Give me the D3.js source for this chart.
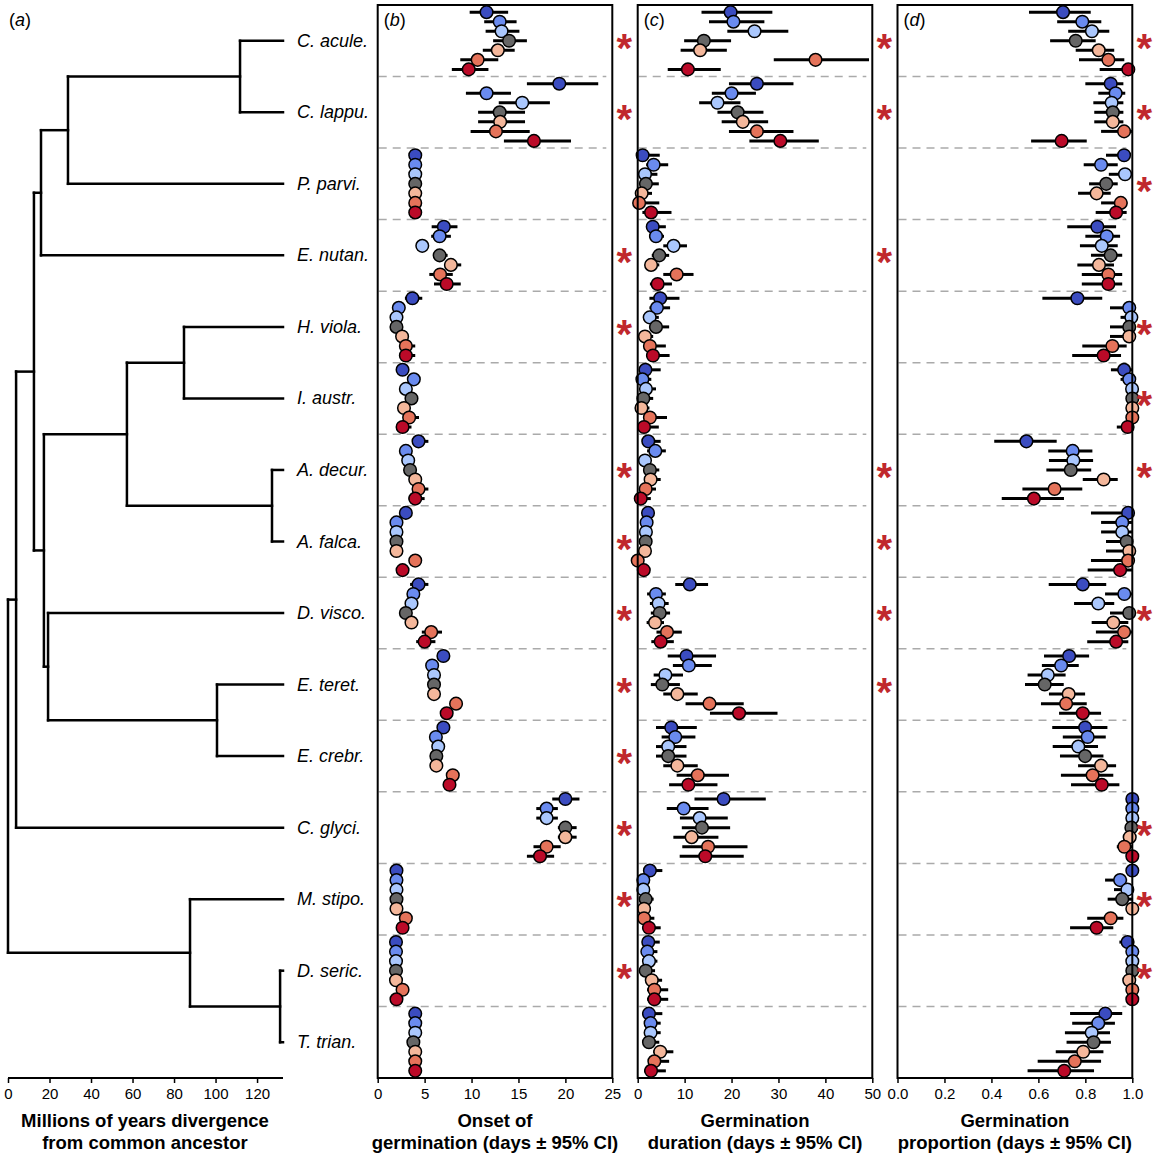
<!DOCTYPE html>
<html>
<head>
<meta charset="utf-8">
<script src="https://cdn.jsdelivr.net/npm/d3@7"></script>
<style>
  body { margin: 0; background: #fff; }
  text { font-family: "Liberation Sans", Arial, Helvetica, sans-serif; }
</style>
</head>
<body>
<svg id="chart" width="1157" height="1157"></svg>
<script>
// ---- data ----
var species = ["C. acule.", "C. lappu.", "P. parvi.", "E. nutan.", "H. viola.", "I. austr.",
  "A. decur.", "A. falca.", "D. visco.", "E. teret.", "E. crebr.", "C. glyci.",
  "M. stipo.", "D. seric.", "T. trian."];

var treatColors = ["#3b4cc0", "#6a8bef", "#aac7fd", "#666666", "#f4b79b", "#e5735a", "#bb0a28"];

// node ages (Myr) for the tree; tips sit at tipAge
var tipAge = 132.5;
var tree = {age: 0, children: [
  {age: 3.9, children: [
    {age: 12.5, children: [
      {age: 15.9, children: [
        {age: 28.9, children: [
          {age: 111.8, children: [{tip: 0}, {tip: 1}]},
          {tip: 2}]},
        {tip: 3}]},
      {age: 17.3, children: [
        {age: 57.3, children: [
          {age: 84.8, children: [{tip: 4}, {tip: 5}]},
          {age: 127.2, children: [{tip: 6}, {tip: 7}]}]},
        {age: 19.3, children: [
          {tip: 8},
          {age: 100.7, children: [{tip: 9}, {tip: 10}]}]}]}]},
    {tip: 11}]},
  {age: 87.7, children: [
    {tip: 12},
    {age: 131.1, children: [{tip: 13}, {tip: 14}]}]}]};

var treeTicks = [0, 20, 40, 60, 80, 100, 120];

// [mean, lower, upper] per treatment, per species
var onset = [
  [[11.6, 9.8, 13.9], [13.0, 11.35, 14.8], [13.2, 11.5, 15.1], [14.0, 12.3, 15.9], [12.8, 11.2, 14.6], [10.65, 8.8, 12.85], [9.7, 7.9, 11.8]],
  [[19.35, 15.9, 23.5], [11.6, 9.4, 14.2], [15.4, 12.9, 18.35], [13.0, 10.7, 15.7], [13.05, 10.7, 15.7], [12.6, 9.9, 16.2], [16.65, 13.45, 20.6]],
  [[4.0, 3.9, 4.1], [4.0, 3.9, 4.1], [4.0, 3.9, 4.1], [4.0, 3.9, 4.1], [4.0, 3.9, 4.1], [4.0, 3.9, 4.1], [4.0, 3.9, 4.1]],
  [[7.05, 5.75, 8.5], [6.6, 5.7, 7.8], [4.75, 4.6, 4.9], [6.6, 5.9, 7.45], [7.8, 7.1, 8.9], [6.65, 5.5, 8.0], [7.35, 6.0, 8.85]],
  [[3.7, 2.9, 4.75], [2.25, 2.1, 2.4], [2.0, 1.9, 2.1], [2.0, 1.9, 2.1], [2.6, 2.4, 2.8], [3.0, 2.6, 4.0], [3.0, 2.6, 4.0]],
  [[2.65, 2.5, 2.8], [3.85, 3.7, 4.0], [3.0, 2.9, 3.1], [3.6, 3.4, 3.8], [2.8, 2.6, 3.0], [3.35, 2.9, 4.4], [2.65, 2.4, 3.6]],
  [[4.35, 3.9, 5.4], [3.0, 2.9, 3.1], [3.25, 3.1, 3.4], [3.45, 3.3, 3.6], [4.0, 3.8, 4.2], [4.35, 3.7, 5.4], [4.0, 3.3, 5.0]],
  [[3.0, 2.9, 3.1], [2.0, 1.9, 2.1], [2.0, 1.9, 2.1], [2.0, 1.9, 2.1], [2.0, 1.9, 2.1], [4.0, 3.9, 4.1], [2.65, 2.5, 2.8]],
  [[4.35, 3.45, 5.4], [3.8, 3.7, 3.9], [3.6, 3.5, 3.7], [3.0, 2.9, 3.1], [3.6, 3.5, 3.7], [5.7, 4.7, 6.85], [5.0, 4.1, 6.15]],
  [[7.0, 6.9, 7.1], [5.8, 5.7, 5.9], [6.0, 5.9, 6.1], [6.0, 5.9, 6.1], [6.0, 5.9, 6.1], [8.35, 8.2, 8.5], [7.35, 7.2, 7.5]],
  [[7.0, 6.9, 7.1], [6.2, 6.1, 6.3], [6.45, 6.3, 6.6], [6.25, 6.1, 6.4], [6.25, 6.1, 6.4], [8.0, 7.9, 8.1], [7.65, 7.5, 7.8]],
  [[20.0, 18.6, 21.5], [18.0, 16.9, 19.2], [18.0, 16.9, 19.2], [20.0, 19.2, 21.2], [20.0, 19.2, 21.2], [18.0, 16.6, 19.5], [17.3, 15.9, 18.8]],
  [[2.0, 1.9, 2.1], [2.0, 1.9, 2.1], [2.0, 1.9, 2.1], [2.0, 1.9, 2.1], [2.0, 1.9, 2.1], [3.0, 2.9, 3.1], [2.65, 2.5, 2.8]],
  [[1.95, 1.85, 2.05], [1.95, 1.85, 2.05], [1.95, 1.85, 2.05], [1.95, 1.85, 2.05], [1.95, 1.85, 2.05], [2.65, 2.5, 2.8], [2.0, 1.9, 2.1]],
  [[4.0, 3.9, 4.1], [4.0, 3.9, 4.1], [4.0, 3.9, 4.1], [3.8, 3.7, 3.9], [4.0, 3.9, 4.1], [4.0, 3.9, 4.1], [4.0, 3.9, 4.1]]
];

var duration = [
  [[19.8, 13.6, 28.7], [20.4, 15.2, 27.0], [24.9, 19.1, 32.1], [14.1, 9.9, 19.9], [13.3, 9.15, 19.0], [37.9, 29.0, 49.3], [10.7, 6.4, 17.7]],
  [[25.4, 19.45, 33.2], [20.0, 15.8, 25.2], [17.0, 13.1, 21.9], [21.3, 17.0, 26.8], [22.4, 17.9, 27.8], [25.4, 19.45, 33.2], [30.4, 23.8, 38.6]],
  [[1.05, 0.3, 4.7], [3.4, 1.8, 6.5], [1.55, 0.5, 4.2], [1.75, 0.6, 4.5], [0.85, 0.2, 3.05], [0.3, 0.0, 4.6], [2.85, 1.0, 7.2]],
  [[3.2, 1.9, 6.0], [3.9, 2.4, 5.6], [7.65, 5.45, 10.5], [4.6, 3.0, 6.7], [2.85, 1.6, 4.6], [8.3, 5.45, 11.9], [4.25, 2.6, 7.3]],
  [[4.8, 2.5, 8.9], [4.1, 2.5, 6.9], [2.55, 1.2, 4.5], [3.9, 2.4, 6.7], [1.55, 0.6, 3.3], [2.6, 1.3, 6.0], [3.25, 1.8, 6.8]],
  [[1.65, 0.6, 4.9], [1.0, 0.3, 2.9], [1.75, 0.8, 3.9], [1.2, 0.4, 3.3], [0.8, 0.2, 2.5], [2.6, 1.2, 6.25], [1.35, 0.5, 4.5]],
  [[2.25, 1.0, 4.9], [3.75, 2.0, 6.0], [1.55, 0.7, 2.8], [2.6, 1.2, 4.6], [2.75, 1.4, 4.9], [1.7, 0.7, 3.9], [0.65, 0.1, 2.8]],
  [[2.2, 1.5, 3.0], [1.9, 1.2, 2.7], [1.75, 1.1, 2.5], [1.7, 1.0, 2.5], [1.55, 0.9, 2.3], [0.0, 0.0, 0.6], [1.3, 0.7, 2.0]],
  [[11.1, 8.0, 15.0], [3.9, 2.0, 6.0], [4.45, 2.6, 6.6], [4.7, 2.8, 6.9], [3.7, 1.9, 5.6], [6.25, 4.0, 9.4], [4.9, 2.9, 7.7]],
  [[10.4, 6.4, 16.7], [10.9, 7.5, 15.8], [5.9, 3.4, 9.65], [5.25, 2.8, 9.0], [8.45, 5.45, 12.8], [15.3, 10.2, 22.6], [21.6, 15.4, 29.8]],
  [[7.15, 3.9, 12.6], [8.0, 5.1, 12.3], [6.5, 3.9, 10.4], [6.5, 3.9, 10.4], [8.45, 5.45, 12.8], [12.8, 8.3, 19.45], [10.8, 6.7, 17.0]],
  [[18.3, 12.1, 27.3], [9.8, 6.2, 15.1], [13.2, 9.0, 19.2], [13.7, 9.4, 19.7], [11.5, 7.6, 17.2], [15.0, 9.5, 23.4], [14.4, 8.95, 22.6]],
  [[2.6, 1.2, 5.25], [1.2, 0.4, 2.5], [1.2, 0.4, 2.5], [1.7, 0.7, 3.4], [1.35, 0.5, 2.8], [1.35, 0.5, 3.55], [2.4, 1.0, 4.9]],
  [[2.25, 1.0, 4.7], [2.05, 0.9, 4.2], [2.4, 1.2, 4.2], [1.7, 0.7, 3.7], [3.0, 1.6, 5.2], [3.55, 2.0, 6.5], [3.55, 2.0, 6.5]],
  [[2.4, 1.0, 5.25], [2.75, 1.5, 4.9], [2.75, 1.5, 4.9], [2.4, 1.2, 4.6], [4.8, 3.3, 7.6], [3.55, 2.25, 6.7], [2.85, 1.35, 6.0]]
];

var proportion = [
  [[0.705, 0.56, 0.823], [0.787, 0.68, 0.868], [0.828, 0.727, 0.902], [0.759, 0.65, 0.844], [0.857, 0.759, 0.923], [0.898, 0.773, 0.966], [0.983, 0.861, 1.0]],
  [[0.908, 0.80, 0.962], [0.929, 0.855, 0.97], [0.912, 0.834, 0.962], [0.917, 0.838, 0.962], [0.917, 0.838, 0.962], [0.965, 0.867, 1.0], [0.699, 0.569, 0.806]],
  [[0.965, 0.888, 0.99], [0.867, 0.793, 0.938], [0.969, 0.90, 1.0], [0.889, 0.816, 0.938], [0.848, 0.769, 0.908], [0.951, 0.867, 0.979], [0.931, 0.844, 0.976]],
  [[0.851, 0.723, 0.931], [0.891, 0.80, 0.948], [0.87, 0.777, 0.938], [0.908, 0.824, 0.957], [0.858, 0.766, 0.922], [0.898, 0.785, 0.957], [0.898, 0.785, 0.957]],
  [[0.766, 0.617, 0.872], [0.987, 0.905, 1.0], [0.996, 0.95, 1.0], [0.987, 0.905, 1.0], [0.987, 0.905, 1.0], [0.915, 0.787, 0.976], [0.878, 0.744, 0.952]],
  [[0.965, 0.909, 1.0], [0.987, 0.95, 1.0], [0.999, 0.98, 1.0], [1.0, 0.98, 1.0], [1.0, 0.98, 1.0], [1.0, 0.98, 1.0], [0.98, 0.934, 1.0]],
  [[0.549, 0.412, 0.678], [0.746, 0.642, 0.83], [0.749, 0.645, 0.833], [0.738, 0.634, 0.825], [0.878, 0.789, 0.938], [0.669, 0.532, 0.787], [0.581, 0.444, 0.709]],
  [[0.982, 0.824, 1.0], [0.957, 0.867, 1.0], [0.957, 0.867, 1.0], [0.976, 0.888, 1.0], [0.987, 0.888, 1.0], [0.982, 0.824, 1.0], [0.948, 0.81, 1.0]],
  [[0.789, 0.644, 0.889], [0.966, 0.884, 1.0], [0.855, 0.752, 0.923], [0.987, 0.905, 1.0], [0.919, 0.827, 0.983], [0.965, 0.845, 1.0], [0.931, 0.808, 0.983]],
  [[0.731, 0.624, 0.816], [0.697, 0.615, 0.772], [0.64, 0.554, 0.716], [0.627, 0.543, 0.708], [0.729, 0.645, 0.799], [0.718, 0.611, 0.806], [0.789, 0.688, 0.867]],
  [[0.799, 0.659, 0.894], [0.81, 0.704, 0.887], [0.77, 0.661, 0.854], [0.799, 0.692, 0.877], [0.867, 0.769, 0.931], [0.831, 0.696, 0.919], [0.87, 0.739, 0.945]],
  [[1.0, 0.98, 1.0], [1.0, 0.98, 1.0], [1.0, 0.98, 1.0], [0.996, 0.97, 1.0], [0.989, 0.96, 1.0], [0.966, 0.934, 1.0], [1.0, 0.98, 1.0]],
  [[1.0, 0.98, 1.0], [0.948, 0.884, 0.978], [0.979, 0.922, 1.0], [0.957, 0.895, 1.0], [1.0, 0.98, 1.0], [0.908, 0.808, 0.962], [0.848, 0.735, 0.919]],
  [[0.98, 0.945, 1.0], [1.0, 0.98, 1.0], [1.0, 0.98, 1.0], [1.0, 0.98, 1.0], [0.987, 0.96, 1.0], [1.0, 0.98, 1.0], [1.0, 0.98, 1.0]],
  [[0.885, 0.735, 0.957], [0.855, 0.744, 0.926], [0.827, 0.713, 0.905], [0.835, 0.72, 0.909], [0.791, 0.674, 0.877], [0.755, 0.597, 0.867], [0.71, 0.554, 0.837]]
];

// significance flags (asterisks) per panel
var sigOnset      = [1, 1, 0, 1, 1, 0, 1, 1, 1, 1, 1, 1, 1, 1, 0];
var sigDuration   = [1, 1, 0, 1, 0, 0, 1, 1, 1, 1, 0, 0, 0, 0, 0];
var sigProportion = [1, 1, 1, 0, 1, 1, 1, 0, 1, 0, 0, 1, 1, 1, 0];

// ---- layout ----
var svg = d3.select("#chart");
var plotTop = 5, plotBottom = 1078;

var y = d3.scaleBand().domain(d3.range(species.length)).range([plotTop, plotBottom]);
var yIn = d3.scalePoint().domain(d3.range(treatColors.length)).range([0, y.bandwidth()]).padding(0.75);
function yc(i) { return y(i) + y.bandwidth() / 2; }

function styleAxis(g) {
  g.select(".domain").remove();
  g.selectAll(".tick line").attr("stroke", "#000").attr("stroke-width", 1.5);
  g.selectAll(".tick text").attr("font-size", 15).attr("fill", "#000")
    .style("font-family", "'Liberation Sans', Arial, sans-serif");
}

function axisTitle(cx, lines) {
  var t = svg.append("text").attr("text-anchor", "middle")
    .attr("font-size", 18.5).attr("font-weight", "bold");
  lines.forEach(function(l, k) {
    t.append("tspan").attr("x", cx).attr("y", 1127 + k * 22).text(l);
  });
}

function panelLabel(x0, letter) {
  var t = svg.append("text").attr("x", x0).attr("y", 26).attr("font-size", 18);
  t.append("tspan").text("(");
  t.append("tspan").attr("font-style", "italic").text(letter);
  t.append("tspan").text(")");
}

// ---- (a) tree ----
var xt = d3.scaleLinear().domain([0, tipAge]).range([8, 283]);
var root = d3.hierarchy(tree);
root.eachAfter(function(n) {
  if (n.data.tip !== undefined) { n.yy = yc(n.data.tip); n.age = tipAge; }
  else { n.age = n.data.age; n.yy = d3.mean(n.children, function(c) { return c.yy; }); }
});

var tg = svg.append("g").attr("fill", "none").attr("stroke", "#000")
  .attr("stroke-width", 2.5).attr("stroke-linecap", "square");
root.descendants().forEach(function(n) {
  if (!n.children) return;
  var ys = n.children.map(function(c) { return c.yy; });
  tg.append("line").attr("x1", xt(n.age)).attr("x2", xt(n.age))
    .attr("y1", d3.min(ys)).attr("y2", d3.max(ys));
  n.children.forEach(function(c) {
    tg.append("line").attr("x1", xt(n.age)).attr("x2", xt(c.age))
      .attr("y1", c.yy).attr("y2", c.yy);
  });
});

svg.append("g").selectAll("text").data(species).join("text")
  .attr("x", 297).attr("y", function(d, i) { return yc(i) + 6; })
  .attr("font-size", 18).attr("font-style", "italic").text(function(d) { return d; });

svg.append("line").attr("x1", xt(0)).attr("x2", xt(tipAge)).attr("y1", plotBottom).attr("y2", plotBottom)
  .attr("stroke", "#000").attr("stroke-width", 2);
svg.append("g").attr("transform", "translate(0," + plotBottom + ")")
  .call(d3.axisBottom(xt).tickValues(treeTicks).tickSize(5).tickPadding(5))
  .call(styleAxis);
panelLabel(9, "a");
axisTitle(145, ["Millions of years divergence", "from common ancestor"]);

// ---- dot panels ----
function dotPanel(opt) {
  var x = d3.scaleLinear().domain(opt.domain).range(opt.range);
  var g = svg.append("g");

  // dashed separators between species
  g.selectAll("line.sep").data(d3.range(1, species.length)).join("line")
    .attr("class", "sep")
    .attr("x1", opt.range[0] + 1).attr("x2", opt.range[1] - 6)
    .attr("y1", function(i) { return y(i); }).attr("y2", function(i) { return y(i); })
    .attr("stroke", "#aaaaaa").attr("stroke-width", 1.5).attr("stroke-dasharray", "8,6");

  opt.data.forEach(function(rows, i) {
    rows.forEach(function(v, j) {
      var yy = y(i) + yIn(j);
      g.append("line").attr("x1", x(v[1])).attr("x2", x(v[2]))
        .attr("y1", yy).attr("y2", yy).attr("stroke", "#000").attr("stroke-width", 3);
      g.append("circle").attr("cx", x(v[0])).attr("cy", yy).attr("r", 6.3)
        .attr("fill", treatColors[j]).attr("stroke", "#000").attr("stroke-width", 1.5);
    });
  });

  g.append("rect").attr("x", opt.range[0]).attr("y", plotTop)
    .attr("width", opt.range[1] - opt.range[0]).attr("height", plotBottom - plotTop)
    .attr("fill", "none").attr("stroke", "#000").attr("stroke-width", 2);

  svg.append("g").attr("transform", "translate(0," + plotBottom + ")")
    .call(d3.axisBottom(x).tickValues(opt.ticks).tickFormat(opt.fmt).tickSize(5).tickPadding(5))
    .call(styleAxis);

  opt.sig.forEach(function(s, i) {
    if (!s) return;
    svg.append("text").attr("x", opt.range[1] + 12).attr("y", yc(i) + 21)
      .attr("text-anchor", "middle").attr("font-size", 40).attr("font-weight", "bold")
      .attr("fill", "#c0282d").text("*");
  });

  panelLabel(opt.range[0] + 6, opt.letter);
  axisTitle((opt.range[0] + opt.range[1]) / 2, opt.title);
}

dotPanel({letter: "b", data: onset, sig: sigOnset, domain: [0, 25], range: [377.7, 612.3],
  ticks: [0, 5, 10, 15, 20, 25], fmt: d3.format("d"),
  title: ["Onset of", "germination (days \u00b1 95% CI)"]});
dotPanel({letter: "c", data: duration, sig: sigDuration, domain: [0, 50], range: [637.7, 872.3],
  ticks: [0, 10, 20, 30, 40, 50], fmt: d3.format("d"),
  title: ["Germination", "duration (days \u00b1 95% CI)"]});
dotPanel({letter: "d", data: proportion, sig: sigProportion, domain: [0, 1], range: [897.5, 1132.3],
  ticks: [0, 0.2, 0.4, 0.6, 0.8, 1.0], fmt: d3.format(".1f"),
  title: ["Germination", "proportion (days \u00b1 95% CI)"]});
</script>
</body>
</html>
